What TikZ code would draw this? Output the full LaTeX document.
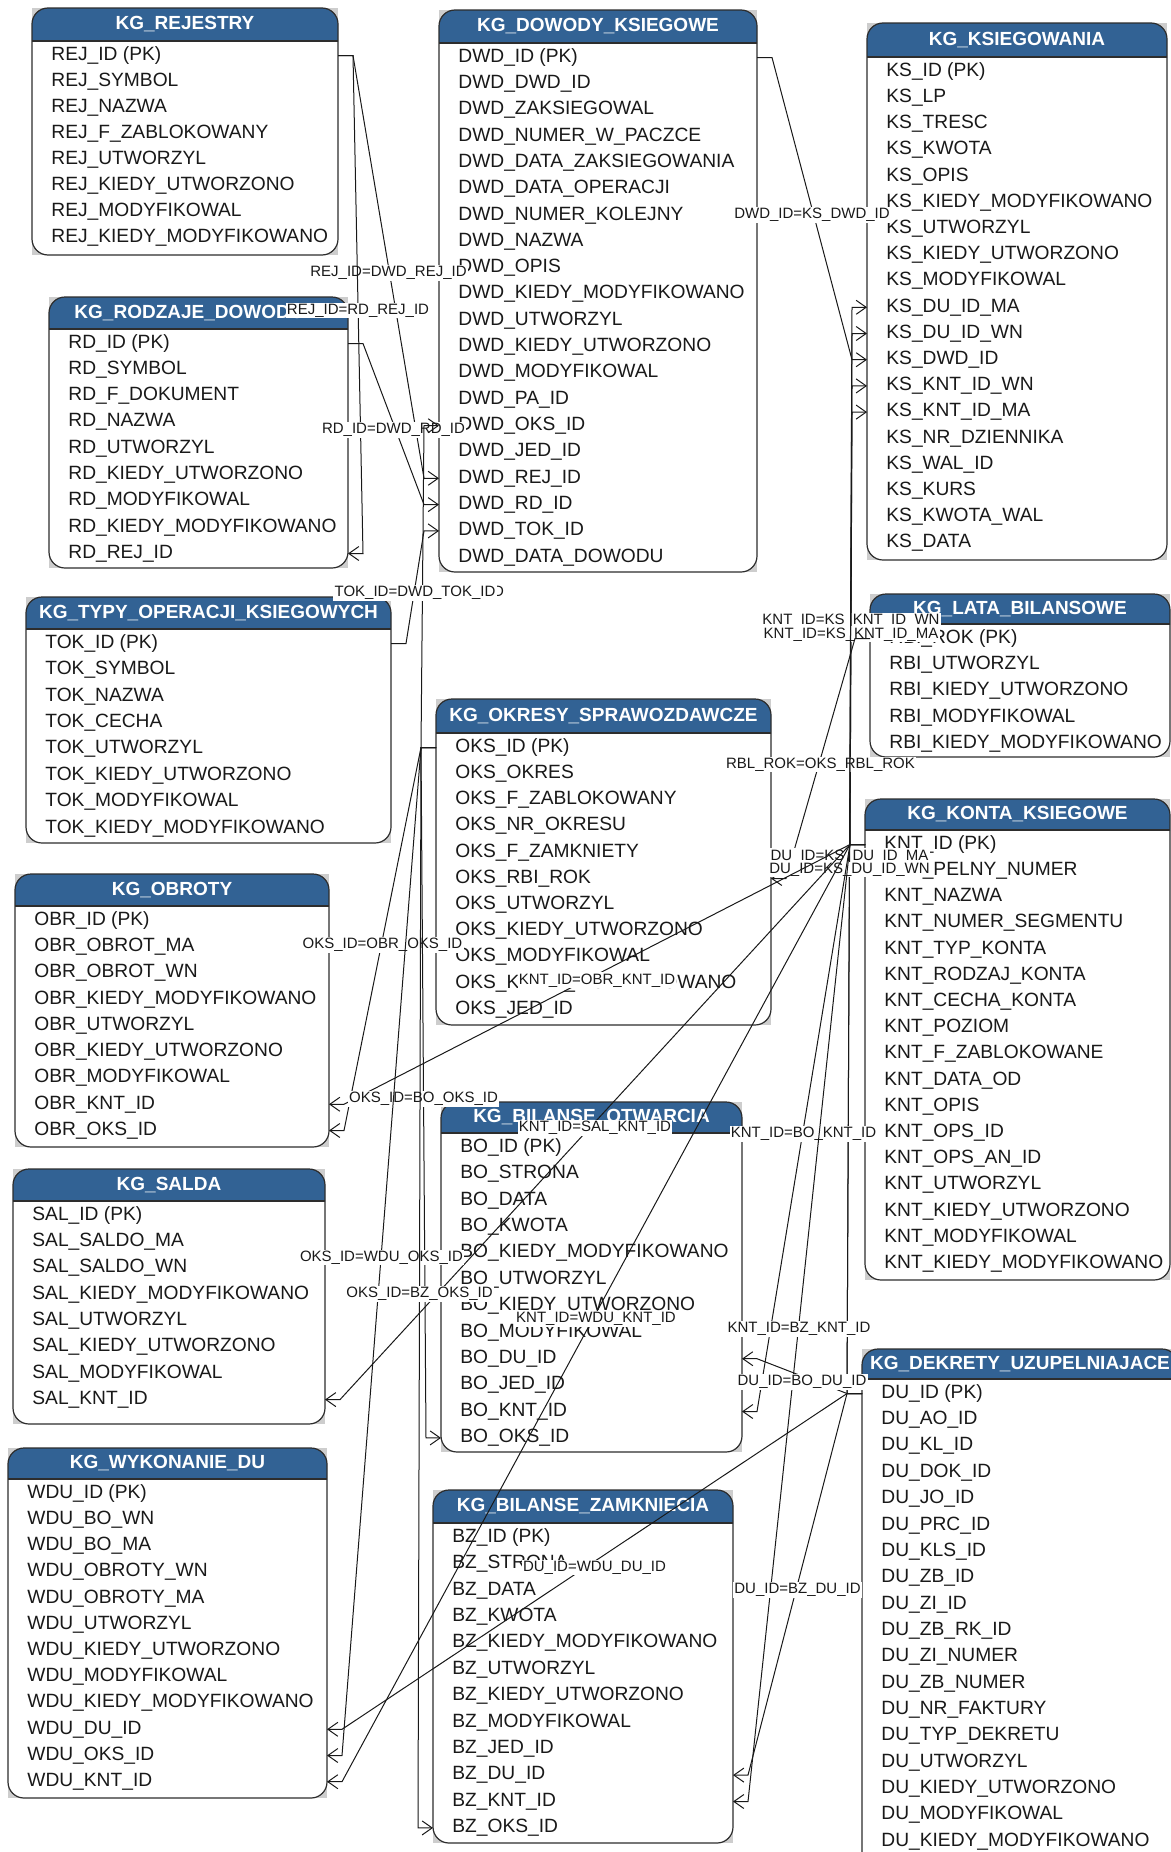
\documentclass[tikz,border=0pt]{standalone}
\usepackage{fontspec}
\setmainfont{Liberation Sans}
\usetikzlibrary{arrows.meta}

\definecolor{hdrblue}{RGB}{50,98,148}
\definecolor{cornergray}{RGB}{205,205,205}
\definecolor{edgegray}{RGB}{45,45,45}
\definecolor{textgray}{RGB}{25,25,25}

\tikzset{
  boxline/.style={draw=edgegray, line width=0.6pt},
  hdrtext/.style={text=white, inner sep=0pt, font=\bfseries\fontsize{9.5}{11}\selectfont},
  rowtext/.style={anchor=west, inner sep=0pt, text=textgray, font=\fontsize{9.6}{11}\selectfont},
  fk/.style={draw=textgray, line width=0.5pt, -{Straight Barb[length=5pt,width=7pt]}},
  lbl/.style={fill=white, inner sep=0.6pt, text=textgray, font=\fontsize{7.5}{8}\selectfont, yshift=-3pt}
}

% #1 name, #2 left, #3 top, #4 right, #5 header bottom, #6 bottom, #7 row step, #8 title, #9 columns
\newcommand{\ertable}[9]{%
  \fill[cornergray] (#2,#3) rectangle (#4,#6);
  \fill[white, rounded corners=8pt] (#2,#3) rectangle (#4,#6);
  \begin{scope}
    \clip (#2,#3) rectangle (#4,#5);
    \fill[hdrblue, rounded corners=8pt] (#2,#3) rectangle (#4,#6);
  \end{scope}
  \draw[boxline] (#2,#5) -- (#4,#5);
  \draw[boxline, rounded corners=8pt] (#2,#3) rectangle (#4,#6);
  \node[hdrtext] (#1-title) at ({(#2+#4)/2},{(#3+#5)/2}) {#8};
  \foreach \fld [count=\i, evaluate=\i as \y using #5+14.5+(\i-1)*#7] in {#9} {
    \node[rowtext] (#1-\i) at (#2+19,\y) {\fld};
    \coordinate (#1-\i-l) at (#2,\y);
    \coordinate (#1-\i-r) at (#4,\y);
  }
}

\begin{document}
\catcode`\_=12
\begin{tikzpicture}[x=0.5pt,y=-0.5pt]
\useasboundingbox (0,0) rectangle (1171,1852);
\clip (0,0) rectangle (1171,1852);
\fill[white] (0,0) rectangle (1171,1852);

% tables
\ertable{rej}{32}{8}{338}{41}{255}{26}{KG_REJESTRY}{REJ_ID (PK),REJ_SYMBOL,REJ_NAZWA,REJ_F_ZABLOKOWANY,REJ_UTWORZYL,REJ_KIEDY_UTWORZONO,REJ_MODYFIKOWAL,REJ_KIEDY_MODYFIKOWANO}
\ertable{dwd}{439}{10}{757}{43}{572}{26.3}{KG_DOWODY_KSIEGOWE}{DWD_ID (PK),DWD_DWD_ID,DWD_ZAKSIEGOWAL,DWD_NUMER_W_PACZCE,DWD_DATA_ZAKSIEGOWANIA,DWD_DATA_OPERACJI,DWD_NUMER_KOLEJNY,DWD_NAZWA,DWD_OPIS,DWD_KIEDY_MODYFIKOWANO,DWD_UTWORZYL,DWD_KIEDY_UTWORZONO,DWD_MODYFIKOWAL,DWD_PA_ID,DWD_OKS_ID,DWD_JED_ID,DWD_REJ_ID,DWD_RD_ID,DWD_TOK_ID,DWD_DATA_DOWODU}
\ertable{ks}{867}{23}{1167}{57}{560}{26.2}{KG_KSIEGOWANIA}{KS_ID (PK),KS_LP,KS_TRESC,KS_KWOTA,KS_OPIS,KS_KIEDY_MODYFIKOWANO,KS_UTWORZYL,KS_KIEDY_UTWORZONO,KS_MODYFIKOWAL,KS_DU_ID_MA,KS_DU_ID_WN,KS_DWD_ID,KS_KNT_ID_WN,KS_KNT_ID_MA,KS_NR_DZIENNIKA,KS_WAL_ID,KS_KURS,KS_KWOTA_WAL,KS_DATA}
\ertable{rd}{49}{297}{348}{329}{568}{26.25}{KG_RODZAJE_DOWODOW}{RD_ID (PK),RD_SYMBOL,RD_F_DOKUMENT,RD_NAZWA,RD_UTWORZYL,RD_KIEDY_UTWORZONO,RD_MODYFIKOWAL,RD_KIEDY_MODYFIKOWANO,RD_REJ_ID}
\ertable{tok}{26}{597}{391}{629}{843}{26.4}{KG_TYPY_OPERACJI_KSIEGOWYCH}{TOK_ID (PK),TOK_SYMBOL,TOK_NAZWA,TOK_CECHA,TOK_UTWORZYL,TOK_KIEDY_UTWORZONO,TOK_MODYFIKOWAL,TOK_KIEDY_MODYFIKOWANO}
\ertable{rbl}{870}{594}{1170}{624}{757}{26.25}{KG_LATA_BILANSOWE}{RBI_ROK (PK),RBI_UTWORZYL,RBI_KIEDY_UTWORZONO,RBI_MODYFIKOWAL,RBI_KIEDY_MODYFIKOWANO}
\ertable{oks}{436}{699}{771}{733}{1025}{26.2}{KG_OKRESY_SPRAWOZDAWCZE}{OKS_ID (PK),OKS_OKRES,OKS_F_ZABLOKOWANY,OKS_NR_OKRESU,OKS_F_ZAMKNIETY,OKS_RBI_ROK,OKS_UTWORZYL,OKS_KIEDY_UTWORZONO,OKS_MODYFIKOWAL,OKS_KIEDY_MODYFIKOWANO,OKS_JED_ID}
\ertable{knt}{865}{799}{1170}{830}{1280}{26.2}{KG_KONTA_KSIEGOWE}{KNT_ID (PK),KNT_PELNY_NUMER,KNT_NAZWA,KNT_NUMER_SEGMENTU,KNT_TYP_KONTA,KNT_RODZAJ_KONTA,KNT_CECHA_KONTA,KNT_POZIOM,KNT_F_ZABLOKOWANE,KNT_DATA_OD,KNT_OPIS,KNT_OPS_ID,KNT_OPS_AN_ID,KNT_UTWORZYL,KNT_KIEDY_UTWORZONO,KNT_MODYFIKOWAL,KNT_KIEDY_MODYFIKOWANO}
\ertable{obr}{15}{874}{329}{906}{1147}{26.25}{KG_OBROTY}{OBR_ID (PK),OBR_OBROT_MA,OBR_OBROT_WN,OBR_KIEDY_MODYFIKOWANO,OBR_UTWORZYL,OBR_KIEDY_UTWORZONO,OBR_MODYFIKOWAL,OBR_KNT_ID,OBR_OKS_ID}
\ertable{sal}{13}{1169}{325}{1201}{1424}{26.3}{KG_SALDA}{SAL_ID (PK),SAL_SALDO_MA,SAL_SALDO_WN,SAL_KIEDY_MODYFIKOWANO,SAL_UTWORZYL,SAL_KIEDY_UTWORZONO,SAL_MODYFIKOWAL,SAL_KNT_ID}
\ertable{bo}{441}{1102}{742}{1133}{1452}{26.4}{KG_BILANSE_OTWARCIA}{BO_ID (PK),BO_STRONA,BO_DATA,BO_KWOTA,BO_KIEDY_MODYFIKOWANO,BO_UTWORZYL,BO_KIEDY_UTWORZONO,BO_MODYFIKOWAL,BO_DU_ID,BO_JED_ID,BO_KNT_ID,BO_OKS_ID}
\ertable{du}{862}{1349}{1178}{1379}{1900}{26.35}{KG_DEKRETY_UZUPELNIAJACE}{DU_ID (PK),DU_AO_ID,DU_KL_ID,DU_DOK_ID,DU_JO_ID,DU_PRC_ID,DU_KLS_ID,DU_ZB_ID,DU_ZI_ID,DU_ZB_RK_ID,DU_ZI_NUMER,DU_ZB_NUMER,DU_NR_FAKTURY,DU_TYP_DEKRETU,DU_UTWORZYL,DU_KIEDY_UTWORZONO,DU_MODYFIKOWAL,DU_KIEDY_MODYFIKOWANO}
\ertable{wdu}{8}{1448}{327}{1479}{1798}{26.2}{KG_WYKONANIE_DU}{WDU_ID (PK),WDU_BO_WN,WDU_BO_MA,WDU_OBROTY_WN,WDU_OBROTY_MA,WDU_UTWORZYL,WDU_KIEDY_UTWORZONO,WDU_MODYFIKOWAL,WDU_KIEDY_MODYFIKOWANO,WDU_DU_ID,WDU_OKS_ID,WDU_KNT_ID}
\ertable{bz}{433}{1490}{733}{1523}{1843}{26.4}{KG_BILANSE_ZAMKNIECIA}{BZ_ID (PK),BZ_STRONA,BZ_DATA,BZ_KWOTA,BZ_KIEDY_MODYFIKOWANO,BZ_UTWORZYL,BZ_KIEDY_UTWORZONO,BZ_MODYFIKOWAL,BZ_JED_ID,BZ_DU_ID,BZ_KNT_ID,BZ_OKS_ID}

% relations: PK stub -- FK stub -> FK column
\draw[fk] (rej-1-r) -- ([xshift=7.5pt]rej-1-r) -- node[lbl]{REJ_ID=DWD_REJ_ID} ([xshift=-7.5pt]dwd-17-l) -- (dwd-17-l);
\draw[fk] (rej-1-r) -- ([xshift=7.5pt]rej-1-r) -- node[lbl]{REJ_ID=RD_REJ_ID} ([xshift=7.5pt]rd-9-r) -- (rd-9-r);
\draw[fk] (rd-1-r) -- ([xshift=7.5pt]rd-1-r) -- node[lbl]{RD_ID=DWD_RD_ID} ([xshift=-7.5pt]dwd-18-l) -- (dwd-18-l);
\draw[fk] (oks-1-l) -- ([xshift=-7.5pt]oks-1-l) -- node[lbl]{OKS_ID=DWD_OKS_ID} ([xshift=-7.5pt]dwd-15-l) -- (dwd-15-l);
\draw[fk] (tok-1-r) -- ([xshift=7.5pt]tok-1-r) -- node[lbl]{TOK_ID=DWD_TOK_ID} ([xshift=-7.5pt]dwd-19-l) -- (dwd-19-l);
\draw[fk] (dwd-1-r) -- ([xshift=7.5pt]dwd-1-r) -- node[lbl]{DWD_ID=KS_DWD_ID} ([xshift=-7.5pt]ks-12-l) -- (ks-12-l);
\draw[fk] (knt-1-l) -- ([xshift=-7.5pt]knt-1-l) -- node[lbl]{KNT_ID=KS_KNT_ID_WN} ([xshift=-7.5pt]ks-13-l) -- (ks-13-l);
\draw[fk] (knt-1-l) -- ([xshift=-7.5pt]knt-1-l) -- node[lbl]{KNT_ID=KS_KNT_ID_MA} ([xshift=-7.5pt]ks-14-l) -- (ks-14-l);
\draw[fk] (rbl-1-l) -- ([xshift=-7.5pt]rbl-1-l) -- node[lbl]{RBL_ROK=OKS_RBL_ROK} ([xshift=7.5pt]oks-6-r) -- (oks-6-r);
\draw[fk] (du-1-l) -- ([xshift=-7.5pt]du-1-l) -- node[lbl]{DU_ID=KS_DU_ID_MA} ([xshift=-7.5pt]ks-10-l) -- (ks-10-l);
\draw[fk] (du-1-l) -- ([xshift=-7.5pt]du-1-l) -- node[lbl]{DU_ID=KS_DU_ID_WN} ([xshift=-7.5pt]ks-11-l) -- (ks-11-l);
\draw[fk] (oks-1-l) -- ([xshift=-7.5pt]oks-1-l) -- node[lbl]{OKS_ID=OBR_OKS_ID} ([xshift=7.5pt]obr-9-r) -- (obr-9-r);
\draw[fk] (knt-1-l) -- ([xshift=-7.5pt]knt-1-l) -- node[lbl]{KNT_ID=OBR_KNT_ID} ([xshift=7.5pt]obr-8-r) -- (obr-8-r);
\draw[fk] (oks-1-l) -- ([xshift=-7.5pt]oks-1-l) -- node[lbl]{OKS_ID=BO_OKS_ID} ([xshift=-7.5pt]bo-12-l) -- (bo-12-l);
\draw[fk] (knt-1-l) -- ([xshift=-7.5pt]knt-1-l) -- node[lbl]{KNT_ID=SAL_KNT_ID} ([xshift=7.5pt]sal-8-r) -- (sal-8-r);
\draw[fk] (knt-1-l) -- ([xshift=-7.5pt]knt-1-l) -- node[lbl]{KNT_ID=BO_KNT_ID} ([xshift=7.5pt]bo-11-r) -- (bo-11-r);
\draw[fk] (oks-1-l) -- ([xshift=-7.5pt]oks-1-l) -- node[lbl]{OKS_ID=WDU_OKS_ID} ([xshift=7.5pt]wdu-11-r) -- (wdu-11-r);
\draw[fk] (oks-1-l) -- ([xshift=-7.5pt]oks-1-l) -- node[lbl]{OKS_ID=BZ_OKS_ID} ([xshift=-7.5pt]bz-12-l) -- (bz-12-l);
\draw[fk] (knt-1-l) -- ([xshift=-7.5pt]knt-1-l) -- node[lbl]{KNT_ID=WDU_KNT_ID} ([xshift=7.5pt]wdu-12-r) -- (wdu-12-r);
\draw[fk] (knt-1-l) -- ([xshift=-7.5pt]knt-1-l) -- node[lbl]{KNT_ID=BZ_KNT_ID} ([xshift=7.5pt]bz-11-r) -- (bz-11-r);
\draw[fk] (du-1-l) -- ([xshift=-7.5pt]du-1-l) -- node[lbl]{DU_ID=BO_DU_ID} ([xshift=7.5pt]bo-9-r) -- (bo-9-r);
\draw[fk] (du-1-l) -- ([xshift=-7.5pt]du-1-l) -- node[lbl]{DU_ID=WDU_DU_ID} ([xshift=7.5pt]wdu-10-r) -- (wdu-10-r);
\draw[fk] (du-1-l) -- ([xshift=-7.5pt]du-1-l) -- node[lbl]{DU_ID=BZ_DU_ID} ([xshift=7.5pt]bz-10-r) -- (bz-10-r);
\end{tikzpicture}
\end{document}
